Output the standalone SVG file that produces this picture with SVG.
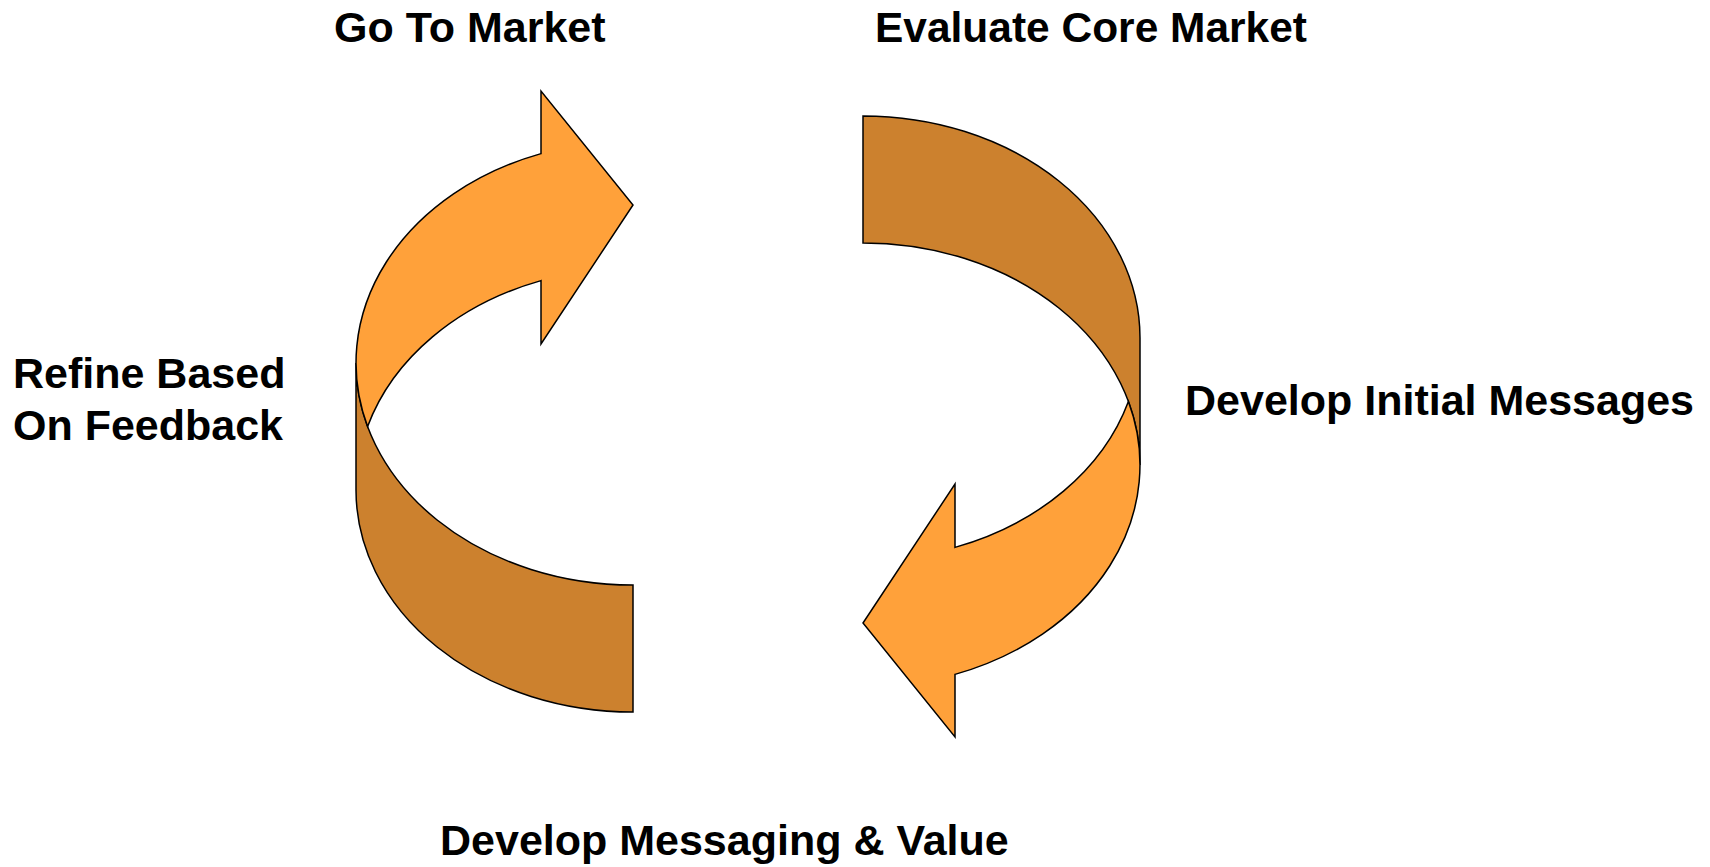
<svg xmlns="http://www.w3.org/2000/svg" width="1710" height="867" viewBox="0 0 1710 867">
  <style>
    .lbl { font-family: "Liberation Sans", Arial, sans-serif; font-weight: bold; font-size: 43px; fill: #000000; }
    .front { fill: #FFA13A; stroke: #000000; stroke-width: 1.5; stroke-linejoin: miter; }
    .back { fill: #CC812E; stroke: #000000; stroke-width: 1.5; stroke-linejoin: miter; }
  </style>
  <defs>
    <g id="curvedArrow">
      <path class="back" d="M 356,363 A 277 222 0 0 0 633,585 L 633,712 A 277 222 0 0 1 356,490 Z"/>
      <path class="front" d="M 367.6,426.5 A 277 222 0 0 1 541,153.6 L 541,91 L 633,205 L 541,344 L 541,280.6 A 277 222 0 0 0 367.6,426.5 Z"/>
    </g>
  </defs>
  <rect x="0" y="0" width="1710" height="867" fill="#FFFFFF"/>
  <g id="connectors">
    <g id="arrow-left"><use href="#curvedArrow"/></g>
    <g id="arrow-right"><use href="#curvedArrow" transform="rotate(180 748 414)"/></g>
  </g>
  <g id="node-go-to-market"><text class="lbl" x="334" y="42">Go To Market</text></g>
  <g id="node-evaluate-core-market"><text class="lbl" x="875" y="42" textLength="432" lengthAdjust="spacingAndGlyphs">Evaluate Core Market</text></g>
  <g id="node-develop-initial-messages"><text class="lbl" x="1185" y="415">Develop Initial Messages</text></g>
  <g id="node-develop-messaging-value"><text class="lbl" x="440" y="855">Develop Messaging &amp; Value</text></g>
  <g id="node-refine-based-on-feedback">
    <text class="lbl" x="13" y="388">Refine Based</text>
    <text class="lbl" x="13" y="440">On Feedback</text>
  </g>
</svg>
